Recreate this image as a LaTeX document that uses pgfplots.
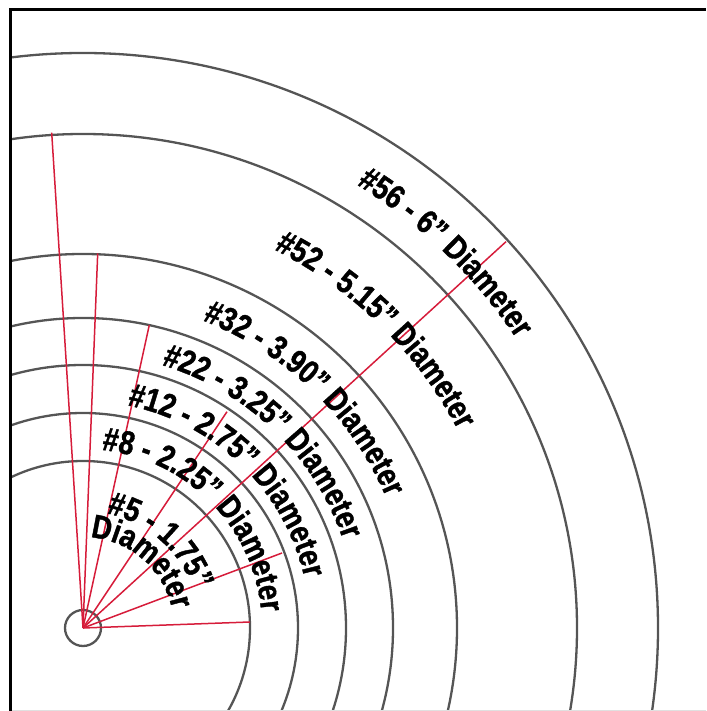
\documentclass[border=0pt]{standalone}
\usepackage{fontspec}
\usepackage{pgfplots}
\pgfplotsset{compat=1.18}
\usetikzlibrary{decorations.text}
\newfontfamily\lbl[FakeStretch=0.83, BoldFeatures={FakeBold=1.2}]{Liberation Sans}
\newcommand\lblf{\lbl\bfseries\fontsize{33}{33}\selectfont}
\definecolor{ring}{RGB}{85,85,85}
\definecolor{spoke}{RGB}{214,28,58}
% #1 baseline radius, #2 start angle, #3 end angle, #4 text
\newcommand\arclabel[4]{\path[decorate,decoration={text along path,text={|\lblf|#4},text align=center}] (axis cs:83,83) ++(#2:#1pt) arc[start angle=#2,end angle=#3,radius=#1pt];}
\begin{document}
\begin{tikzpicture}
\begin{axis}[hide axis, scale only axis, width=706pt, height=711pt,
  xmin=0, xmax=706, ymin=0, ymax=711, clip=true]
\coordinate (bl) at (axis cs:0,0);
\coordinate (tr) at (axis cs:706,711);
% rings
\begin{scope}
\clip (axis cs:10.7,0) rectangle (axis cs:706,701.3);
\pgfplotsinvokeforeach{18,167,215,263,310,374,494,575}{
  \draw[ring, line width=2.3pt] (axis cs:83,83) circle[radius=#1pt];
}
\end{scope}
% spokes
\addplot[spoke, line width=1.5pt, no markers] coordinates {(83,83) (250,89)};
\addplot[spoke, line width=1.5pt, no markers] coordinates {(83,83) (282,158)};
\addplot[spoke, line width=1.5pt, no markers] coordinates {(83,83) (227,299.3)};
\addplot[spoke, line width=1.5pt, no markers] coordinates {(83,83) (506,469.3)};
\addplot[spoke, line width=1.5pt, no markers] coordinates {(83,83) (149.3,386)};
\addplot[spoke, line width=1.5pt, no markers] coordinates {(83,83) (97.7,457.7)};
\addplot[spoke, line width=1.5pt, no markers] coordinates {(83,83) (51.7,578.3)};
% labels
\arclabel{521}{116}{-24}{{\#}56 - 6” Diameter}
\arclabel{424}{115.5}{-24.5}{{\#}52 - 5.15” Diameter}
\arclabel{330}{116}{-24}{{\#}32 - 3.90” Diameter}
\arclabel{274.5}{116}{-24}{{\#}22 - 3.25” Diameter}
\arclabel{227}{115.7}{-24.3}{{\#}12 - 2.75” Diameter}
\arclabel{179}{114.5}{-25.5}{{\#}8 - 2.25” Diameter}
\arclabel{117}{118.5}{-21.5}{{\#}5 - 1.75”}
\arclabel{91}{118.5}{-21.5}{Diameter}
% frame
\draw[black!12, line width=1pt] (axis cs:10,0.6) -- (axis cs:706,0.6);
\draw[black, line width=2.8pt] (axis cs:10.7,0) -- (axis cs:10.7,701.3) -- (axis cs:706,701.3);
\end{axis}
\pgfresetboundingbox
\path[use as bounding box] (bl) rectangle (tr);
\end{tikzpicture}
\end{document}
